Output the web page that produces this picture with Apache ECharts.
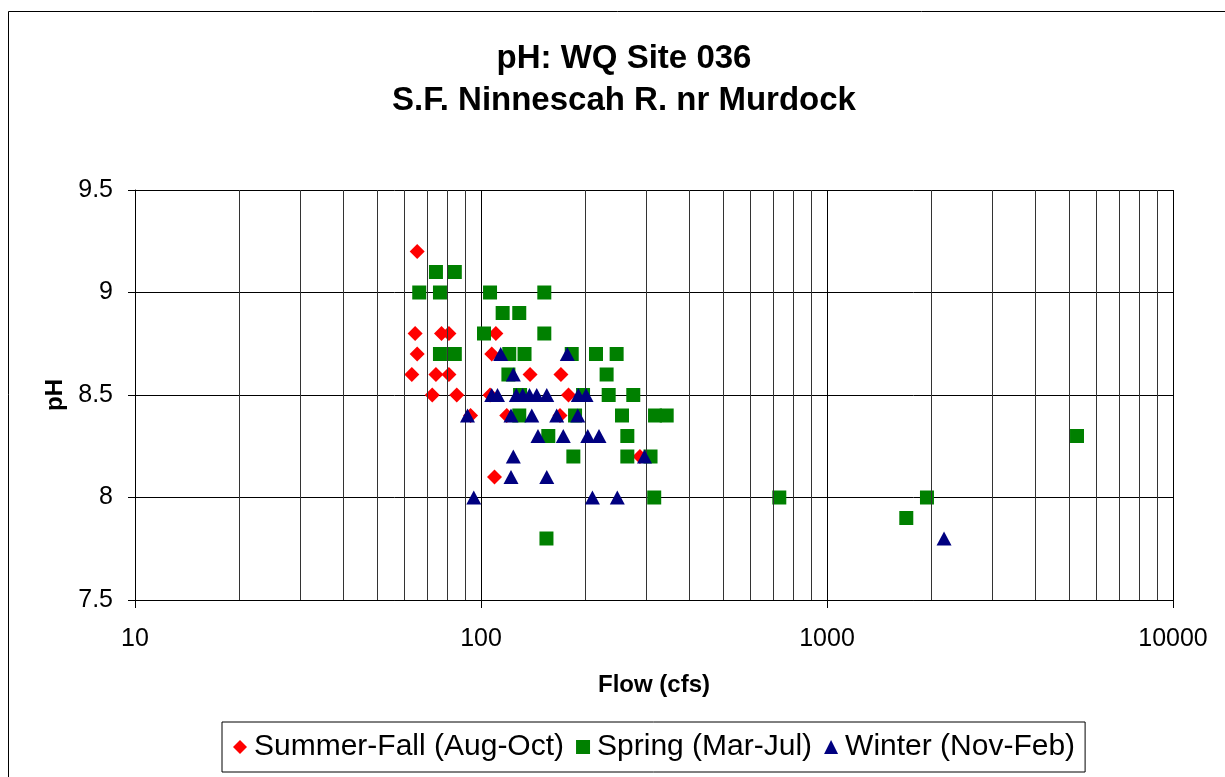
<!DOCTYPE html>
<html>
<head>
<meta charset="utf-8">
<script src="https://cdn.jsdelivr.net/npm/echarts@6/dist/echarts.min.js"></script>
<style>
html,body{margin:0;padding:0;background:#fff;}
#chart{width:1225px;height:777px;}
</style>
</head>
<body>
<div id="chart"></div>
<script>
// Flow (cfs), pH pairs
var summerFall = [
  [65.4, 9.2],
  [64.5, 8.8], [76.9, 8.8], [80.8, 8.8], [110.4, 8.8],
  [65.4, 8.7], [107.4, 8.7],
  [63.1, 8.6], [74.1, 8.6], [80.8, 8.6], [138.6, 8.6], [170.2, 8.6],
  [72.3, 8.5], [85.1, 8.5], [106.2, 8.5], [179.0, 8.5],
  [93.3, 8.4], [118.7, 8.4], [169.2, 8.4],
  [288.0, 8.2],
  [109.4, 8.1]
];
var spring = [
  [74.1, 9.1], [84.0, 9.1],
  [66.3, 9.0], [76.1, 9.0], [106.2, 9.0], [152.4, 9.0],
  [115.5, 8.9], [129.0, 8.9],
  [102.0, 8.8], [152.4, 8.8],
  [76.1, 8.7], [84.0, 8.7], [120.7, 8.7], [133.6, 8.7], [182.9, 8.7], [215.0, 8.7], [246.6, 8.7],
  [120.0, 8.6], [230.7, 8.6],
  [129.7, 8.5], [197.2, 8.5], [233.9, 8.5], [275.5, 8.5],
  [129.0, 8.4], [187.0, 8.4], [255.6, 8.4], [318.4, 8.4], [344.1, 8.4],
  [156.5, 8.3], [264.8, 8.3], [5280, 8.3],
  [184.9, 8.2], [264.8, 8.2], [309.0, 8.2],
  [316.7, 8.0], [728, 8.0], [1945, 8.0],
  [1695, 7.9],
  [154.6, 7.8]
];
var winter = [
  [114.0, 8.7], [177.6, 8.7],
  [124.0, 8.6],
  [107.4, 8.5], [111.6, 8.5], [126.5, 8.5], [132.0, 8.5], [138.1, 8.5], [144.9, 8.5], [154.9, 8.5], [191.1, 8.5], [201.2, 8.5],
  [91.4, 8.4], [122.1, 8.4], [140.2, 8.4], [165.5, 8.4], [190.4, 8.4],
  [146.1, 8.3], [172.9, 8.3], [203.5, 8.3], [219.3, 8.3],
  [124.0, 8.2], [296.9, 8.2],
  [122.1, 8.1], [154.9, 8.1],
  [95.3, 8.0], [209.9, 8.0], [247.7, 8.0],
  [2179, 7.8]
];
var minorGridFlows = [20, 30, 40, 50, 60, 70, 80, 90, 200, 300, 400, 500, 600, 700, 800, 900, 2000, 3000, 4000, 5000, 6000, 7000, 8000, 9000];
var seriesNames = ['Summer-Fall (Aug-Oct)', 'Spring (Mar-Jul)', 'Winter (Nov-Feb)'];

var chart = echarts.init(document.getElementById('chart'));
var font = 'Liberation Sans, Arial, sans-serif';
chart.setOption({
  backgroundColor: '#fff',
  animation: false,
  title: {
    text: 'pH: WQ Site 036\nS.F. Ninnescah R. nr Murdock',
    left: 619, top: 33, textAlign: 'center',
    textStyle: { fontFamily: font, fontSize: 33, fontWeight: 'bold', color: '#000', lineHeight: 42 }
  },
  graphic: [{
    type: 'rect', silent: true,
    shape: { x: 8.5, y: 11.5, width: 1240, height: 800 },
    style: { fill: 'none', stroke: '#000', lineWidth: 1 }
  }],
  legend: {
    data: seriesNames,
    left: 222, top: 722,
    padding: [10, 10, 10, 11],
    borderColor: '#000', borderWidth: 1,
    itemWidth: 14, itemHeight: 14, itemGap: 12,
    textStyle: { fontFamily: font, fontSize: 30, color: '#000', padding: [0, 0, 0, 2] }
  },
  grid: { left: 135, right: 52, top: 190, bottom: 177 },
  xAxis: {
    type: 'log', logBase: 10, min: 10, max: 10000,
    name: 'Flow (cfs)', nameLocation: 'middle', nameGap: 73,
    nameTextStyle: { fontFamily: font, fontSize: 24, fontWeight: 'bold', color: '#000' },
    axisLine: { show: true, lineStyle: { color: '#000', width: 1 } },
    axisTick: { show: true, length: 8, lineStyle: { color: '#000' } },
    axisLabel: { fontFamily: font, fontSize: 25, color: '#000', margin: 27,
      formatter: function (v) { return String(Math.round(v)); } },
    splitLine: { show: true, lineStyle: { color: '#000', width: 1 } },
    minorTick: { show: false }, minorSplitLine: { show: false }
  },
  yAxis: {
    type: 'value', min: 7.5, max: 9.5, interval: 0.5,
    name: 'pH', nameLocation: 'middle', nameGap: 66,
    nameTextStyle: { fontFamily: font, fontSize: 24, fontWeight: 'bold', color: '#000' },
    axisLine: { show: true, lineStyle: { color: '#000', width: 1 } },
    axisTick: { show: true, length: 7, lineStyle: { color: '#000' } },
    axisLabel: { fontFamily: font, fontSize: 25, color: '#000', margin: 22,
      formatter: function (v) { return String(Math.round(v * 10) / 10); } },
    splitLine: { show: true, lineStyle: { color: '#000', width: 1 } }
  },
  series: [
    {
      name: 'minor-grid', type: 'line', data: [], z: 1, silent: true,
      markLine: {
        silent: true, symbol: 'none', animation: false,
        label: { show: false },
        lineStyle: { color: '#333', width: 1, type: 'solid' },
        data: minorGridFlows.map(function (f) { return { xAxis: f }; })
      }
    },
    {
      name: seriesNames[0], type: 'scatter', data: summerFall, z: 3,
      symbol: 'diamond', symbolSize: [15, 15],
      itemStyle: { color: '#FF0000', opacity: 1 }
    },
    {
      name: seriesNames[1], type: 'scatter', data: spring, z: 4,
      symbol: 'rect', symbolSize: [14, 14],
      itemStyle: { color: '#008000', opacity: 1 }
    },
    {
      name: seriesNames[2], type: 'scatter', data: winter, z: 5,
      symbol: 'triangle', symbolSize: [15, 14],
      itemStyle: { color: '#000080', opacity: 1 }
    }
  ]
});
</script>
</body>
</html>
